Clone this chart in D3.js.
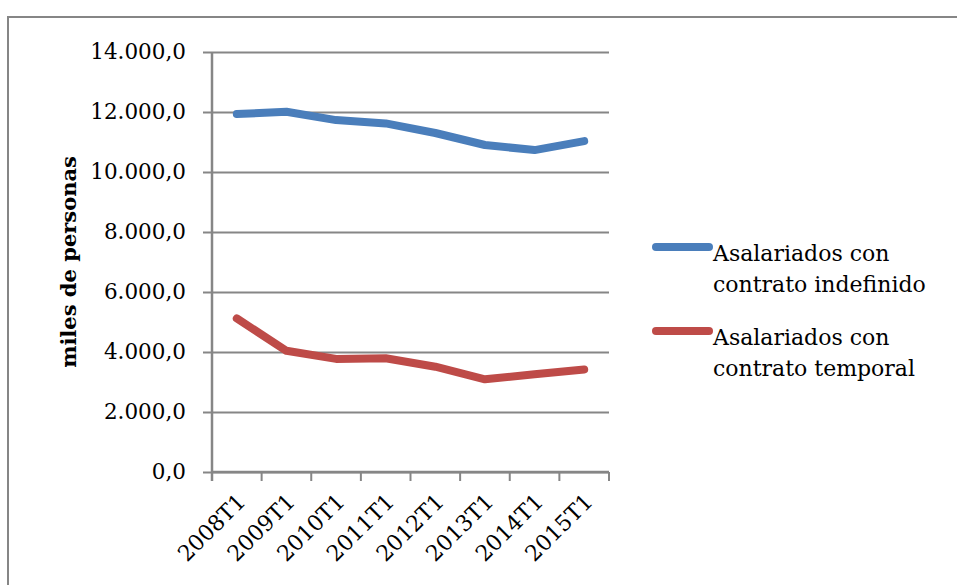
<!DOCTYPE html>
<html>
<head>
<meta charset="utf-8">
<script src="https://cdn.jsdelivr.net/npm/d3@7"></script>
<style>
  html, body { margin: 0; padding: 0; background: #fff; }
  svg { display: block; }
  text { font-family: "DejaVu Serif", "Liberation Serif", serif; fill: #000; }
</style>
</head>
<body>
<svg id="chart" width="957" height="585"></svg>
<script>
// Asalariados por tipo de contrato (miles de personas), primer trimestre de cada año
const periods = ["2008T1", "2009T1", "2010T1", "2011T1", "2012T1", "2013T1", "2014T1", "2015T1"];
const indefinido = [11930, 12010, 11730, 11620, 11300, 10900, 10730, 11030];
const temporal = [5120, 4040, 3770, 3790, 3510, 3090, 3260, 3420];
const yTicks = [0, 2000, 4000, 6000, 8000, 10000, 12000, 14000];
const seriesNames = ["Asalariados con\ncontrato indefinido", "Asalariados con\ncontrato temporal"];
const seriesColors = ["#4a7ebb", "#be4b48"];
const yTitle = "miles de personas";

const svg = d3.select("#chart");
const gridColor = "#868686";
const fontFamily = "'DejaVu Serif', serif";

// Chart frame
svg.append("rect")
  .attr("x", 8).attr("y", 17)
  .attr("width", 980).attr("height", 600)
  .attr("fill", "none").attr("stroke", gridColor).attr("stroke-width", 2);

const plot = { left: 212, right: 609, top: 52, bottom: 472 };

const x = d3.scaleBand().domain(periods).range([plot.left, plot.right]);
const y = d3.scaleLinear().domain([0, 14000]).range([plot.bottom, plot.top]);

const fmt = v => d3.format(",.1f")(v).replace(/,/g, "#").replace(".", ",").replace(/#/g, ".");

// Y axis with gridlines
const yAxis = svg.append("g")
  .attr("transform", `translate(${plot.left},0)`)
  .call(d3.axisLeft(y).tickValues(yTicks).tickFormat(fmt)
    .tickSize(-(plot.right - plot.left)));
yAxis.select(".domain").remove();
yAxis.selectAll(".tick line")
  .attr("stroke", gridColor).attr("stroke-width", 2)
  .attr("x1", -9);
yAxis.selectAll(".tick text")
  .attr("x", -26)
  .style("font-size", "21.5px")
  .style("font-family", fontFamily);

// Vertical axis line
svg.append("line")
  .attr("x1", plot.left).attr("x2", plot.left)
  .attr("y1", plot.top).attr("y2", plot.bottom + 9)
  .attr("stroke", gridColor).attr("stroke-width", 2.5);

// X axis
const xAxis = svg.append("g")
  .attr("transform", `translate(0,${plot.bottom})`)
  .call(d3.axisBottom(x).tickSize(0).tickFormat(d => d));
xAxis.select(".domain")
  .attr("stroke", gridColor).attr("stroke-width", 2.5)
  .attr("d", `M${plot.left},0H${plot.right}`);

// Category boundary ticks
const boundaries = periods.map(p => x(p)).concat([x.range()[1]]);
svg.append("g").selectAll("line")
  .data(boundaries)
  .join("line")
  .attr("x1", d => d).attr("x2", d => d)
  .attr("y1", plot.bottom).attr("y2", plot.bottom + 9)
  .attr("stroke", gridColor).attr("stroke-width", 2);

xAxis.selectAll(".tick text")
  .attr("y", 0).attr("dy", 0)
  .attr("text-anchor", "end")
  .attr("transform", "translate(10,31) rotate(-45)")
  .style("font-size", "22px")
  .style("font-family", fontFamily);

// Y axis title
svg.append("text")
  .attr("transform", "translate(76,262) rotate(-90)")
  .attr("text-anchor", "middle")
  .style("font-size", "21px")
  .style("font-weight", "bold")
  .text(yTitle);

// Lines
const line = d3.line()
  .x((d, i) => x(periods[i]) + x.bandwidth() / 2)
  .y(d => y(d));

[indefinido, temporal].forEach((values, i) => {
  svg.append("path")
    .datum(values)
    .attr("fill", "none")
    .attr("stroke", seriesColors[i])
    .attr("stroke-width", 8)
    .attr("stroke-linecap", "round")
    .attr("stroke-linejoin", "round")
    .attr("d", line);
});

// Legend
const legend = svg.append("g");
seriesNames.forEach((name, i) => {
  const gy = 247 + i * 84;
  legend.append("line")
    .attr("x1", 656).attr("x2", 709)
    .attr("y1", gy).attr("y2", gy)
    .attr("stroke", seriesColors[i])
    .attr("stroke-width", 8)
    .attr("stroke-linecap", "round");
  const t = legend.append("text")
    .attr("x", 713).attr("y", gy + 14)
    .style("font-size", "22px");
  name.split("\n").forEach((part, k) => {
    t.append("tspan").attr("x", 713).attr("dy", k === 0 ? 0 : 31).text(part);
  });
});
</script>
</body>
</html>
